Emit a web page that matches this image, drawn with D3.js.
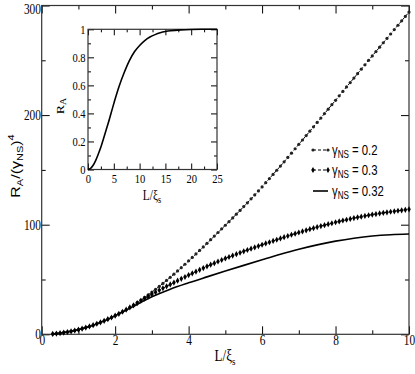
<!DOCTYPE html>
<html>
<head>
<meta charset="utf-8">
<script src="https://cdn.jsdelivr.net/npm/d3@7/dist/d3.min.js"></script>
<style>
  body { margin: 0; background: #fff; }
  svg { display: block; }
  .tick text { font-family: "Liberation Serif", serif; fill: #000; }
</style>
</head>
<body>
<div id="chart"></div>
<script>
// data
const L = [0.3,0.4,0.5,0.6,0.7,0.8,0.9,1.0,1.1,1.2,1.3,1.4,1.5,1.6,1.7,1.8,1.9,2.0,2.1,2.2,2.3,2.4,2.5,
  2.6,2.7,2.8,2.9,3.0,3.1,3.2,3.3,3.4,3.5,3.6,3.7,3.8,3.9,4.0,4.1,4.2,4.3,4.4,4.5,4.6,4.7,4.8,4.9,5.0,
  5.1,5.2,5.3,5.4,5.5,5.6,5.7,5.8,5.9,6.0,6.1,6.2,6.3,6.4,6.5,6.6,6.7,6.8,6.9,7.0,7.1,7.2,7.3,7.4,7.5,
  7.6,7.7,7.8,7.9,8.0,8.1,8.2,8.3,8.4,8.5,8.6,8.7,8.8,8.9,9.0,9.1,9.2,9.3,9.4,9.5,9.6,9.7,9.8,9.9,10.0];

const g02 = [0.38,0.68,1.06,1.53,2.08,2.72,3.44,4.25,5.1,6.1,7.2,8.3,9.6,10.9,12.3,13.8,15.3,17.0,18.7,20.6,22.5,24.5,26.6,
  28.9,31.2,33.6,36.0,38.5,41.1,43.7,46.4,49.2,52.0,54.9,57.8,60.8,63.9,67.0,70.1,73.3,76.5,79.7,83.0,86.3,89.6,92.9,96.2,99.5,
  102.8,106.2,109.6,113.0,116.5,120.0,123.6,127.2,130.8,134.5,138.3,142.1,145.9,149.7,153.5,157.4,161.4,165.3,169.3,173.3,
  177.3,181.3,185.3,189.3,193.3,197.3,201.4,205.4,209.5,213.5,217.6,221.6,225.7,229.7,233.8,237.8,241.9,245.9,250.0,254.0,
  258.0,262.0,266.0,270.0,274.0,278.0,282.0,286.0,290.0,294.0];

const g03 = [0.38,0.68,1.06,1.53,2.08,2.72,3.44,4.25,5.1,6.1,7.2,8.3,9.6,10.9,12.3,13.8,15.3,17.0,18.7,20.6,22.5,24.5,26.4,
  28.5,30.6,32.6,34.6,36.6,38.4,40.2,42.0,43.8,45.5,47.2,48.9,50.6,52.3,54.0,55.6,57.2,58.8,60.4,62.0,63.5,64.9,66.4,67.8,69.2,
  70.5,71.8,73.1,74.4,75.7,76.9,78.1,79.3,80.5,81.7,82.9,84.0,85.2,86.3,87.5,88.6,89.7,90.8,91.8,92.9,
  93.9,94.9,95.9,96.8,97.8,98.7,99.6,100.5,101.3,102.2,103.0,103.8,104.5,105.3,106.0,106.7,107.3,108.0,108.6,109.2,
  109.7,110.3,110.8,111.3,111.8,112.2,112.7,113.1,113.6,114.0];

const L32 = [0.3,0.5,1,1.5,2,2.5,3,3.5,4,4.5,5,5.5,6,6.5,7,7.5,8,8.5,9,9.5,10];
const g032 = [0.38,1.06,4.25,9.5,16.8,25.6,34.2,41.2,47.0,52.4,57.7,62.9,68.0,73.0,77.6,81.6,85.0,87.7,89.7,90.9,91.5];

const Lin = [0,0.5,1,1.5,2,2.5,3,3.5,4,5,6,7,8,9,10,11,12,13,14,15,16,18,20,22,25];
const RA = [0,0.008,0.03,0.065,0.11,0.16,0.22,0.28,0.34,0.47,0.59,0.69,0.775,0.84,0.885,0.92,0.945,0.962,0.975,0.984,0.99,0.996,0.999,1.0,1.0];

const xTicks = [0,2,4,6,8,10];
const xMinor = [1,3,5,7,9];
const yTicks = [0,100,200,300];
const yMinor = [50,150,250];
const inXTicks = [0,5,10,15,20,25];
const inXMinor = [2.5,7.5,12.5,17.5,22.5];
const inYTicks = [0,0.2,0.4,0.6,0.8,1];
const inYMinor = [0.1,0.3,0.5,0.7,0.9];

const legendLabels = ["0.2", "0.3", "0.32"];

const width = 415, height = 374;
const svg = d3.select("#chart").append("svg")
  .attr("width", width).attr("height", height);

const SX = 0.81; // the figure's text is horizontally condensed

// main plot
const x = d3.scaleLinear().domain([0, 10]).range([41.7, 409]);
const y = d3.scaleLinear().domain([0, 300]).range([334.3, 5.5]);

function squeezeText(sel) {
  sel.selectAll(".tick text").attr("transform", "scale(" + SX + ",1)");
}

const gx = svg.append("g").attr("transform", "translate(0," + y(0) + ")")
  .call(d3.axisBottom(x).tickValues(xTicks).tickSize(-8).tickPadding(1).tickFormat(d3.format("d")));
gx.selectAll(".tick text").attr("font-size", 14).attr("dy", "0.72em");
squeezeText(gx);
svg.append("g").attr("transform", "translate(0," + y(0) + ")")
  .call(d3.axisBottom(x).tickValues(xMinor).tickSize(-4).tickFormat(""));
svg.append("g").attr("transform", "translate(0," + y(300) + ")")
  .call(d3.axisTop(x).tickValues(xTicks).tickSize(-8).tickFormat(""));
svg.append("g").attr("transform", "translate(0," + y(300) + ")")
  .call(d3.axisTop(x).tickValues(xMinor).tickSize(-4).tickFormat(""));

const gy = svg.append("g").attr("transform", "translate(" + x(0) + ",0)")
  .call(d3.axisLeft(y).tickValues(yTicks).tickSize(-8).tickPadding(1));
gy.selectAll(".tick text").attr("font-size", 14)
  .attr("dy", d => d === 300 ? "0.55em" : "0.32em");
squeezeText(gy);
svg.append("g").attr("transform", "translate(" + x(0) + ",0)")
  .call(d3.axisLeft(y).tickValues(yMinor).tickSize(-4).tickFormat(""));
svg.append("g").attr("transform", "translate(" + x(10) + ",0)")
  .call(d3.axisRight(y).tickValues(yTicks).tickSize(-8).tickFormat(""));
svg.append("g").attr("transform", "translate(" + x(10) + ",0)")
  .call(d3.axisRight(y).tickValues(yMinor).tickSize(-4).tickFormat(""));

svg.selectAll(".domain").remove();
svg.selectAll(".tick line").attr("stroke", "#000");

svg.append("rect")
  .attr("x", x(0)).attr("y", y(300))
  .attr("width", x(10) - x(0)).attr("height", y(0) - y(300))
  .attr("fill", "none").attr("stroke", "#333").attr("stroke-width", 1.2);

// series
const line = d3.line().x(d => x(d[0])).y(d => y(d[1]));
const s02 = L.map((l, i) => [l, g02[i]]);
const s03 = L.map((l, i) => [l, g03[i]]);
const s032 = L32.map((l, i) => [l, g032[i]]);

svg.append("path").datum(s02).attr("d", line)
  .attr("fill", "none").attr("stroke", "#000").attr("stroke-width", 1).attr("stroke-dasharray", "3,2");
svg.append("path").datum(s03).attr("d", line)
  .attr("fill", "none").attr("stroke", "#000").attr("stroke-width", 1).attr("stroke-dasharray", "3,2");
svg.append("path").datum(s032).attr("d", line.curve(d3.curveCatmullRom))
  .attr("fill", "none").attr("stroke", "#000").attr("stroke-width", 1.6);
line.curve(d3.curveLinear);

svg.append("g").selectAll("circle").data(s02).enter().append("circle")
  .attr("cx", d => x(d[0])).attr("cy", d => y(d[1])).attr("r", 1.6).attr("fill", "#222");
const diamond = d3.symbol().type(d3.symbolDiamond).size(11);
svg.append("g").selectAll("path").data(s03).enter().append("path")
  .attr("d", diamond)
  .attr("transform", d => "translate(" + x(d[0]) + "," + y(d[1]) + ")")
  .attr("fill", "#000");

// legend
const legY = [150, 170, 191];
const leg = svg.append("g");
legendLabels.forEach(function (lab, i) {
  const ly = legY[i];
  if (i < 2) {
    leg.append("line").attr("x1", 313).attr("x2", 328).attr("y1", ly).attr("y2", ly)
      .attr("stroke", "#000").attr("stroke-width", 1).attr("stroke-dasharray", "3,2");
    [313, 328].forEach(function (mx) {
      if (i === 0) {
        leg.append("circle").attr("cx", mx).attr("cy", ly).attr("r", 1.6).attr("fill", "#222");
      } else {
        leg.append("path").attr("d", diamond).attr("transform", "translate(" + mx + "," + ly + ")").attr("fill", "#000");
      }
    });
  } else {
    leg.append("line").attr("x1", 313).attr("x2", 328).attr("y1", ly).attr("y2", ly)
      .attr("stroke", "#000").attr("stroke-width", 1.6);
  }
  const t = leg.append("text")
    .attr("transform", "translate(332," + (ly + 5) + ") scale(" + SX + ",1)")
    .attr("font-family", "Liberation Sans, Arial, sans-serif").attr("font-size", 14);
  t.append("tspan").text("γ");
  t.append("tspan").attr("font-size", 10).attr("dy", 3).text("NS");
  t.append("tspan").attr("dy", -3).text(" = " + lab);
});

// axis labels
const xl = svg.append("text")
  .attr("transform", "translate(225,361) scale(" + SX + ",1)")
  .attr("text-anchor", "middle")
  .attr("font-family", "Liberation Serif, serif").attr("font-size", 16);
xl.append("tspan").text("L/ξ");
xl.append("tspan").attr("font-size", 11).attr("dy", 4).text("s");

const yl = svg.append("text")
  .attr("transform", "translate(20,166) rotate(-90) scale(1," + SX + ")")
  .attr("text-anchor", "middle")
  .attr("font-family", "Liberation Sans, Arial, sans-serif").attr("font-size", 16);
yl.append("tspan").text("R");
yl.append("tspan").attr("font-size", 11).attr("dy", 4).text("A");
yl.append("tspan").attr("dy", -4).text("/(γ");
yl.append("tspan").attr("font-size", 11).attr("dy", 4).text("NS");
yl.append("tspan").attr("dy", -4).text(")");
yl.append("tspan").attr("font-size", 11).attr("dy", -7).text("4");

// inset
const xi = d3.scaleLinear().domain([0, 25]).range([88, 217]);
const yi = d3.scaleLinear().domain([0, 1]).range([169.5, 29.3]);
const inset = svg.append("g");

const gxi = inset.append("g").attr("transform", "translate(0," + yi(0) + ")")
  .call(d3.axisBottom(xi).tickValues(inXTicks).tickSize(-6).tickPadding(4));
gxi.selectAll(".tick text").attr("font-size", 13);
squeezeText(gxi);
inset.append("g").attr("transform", "translate(0," + yi(0) + ")")
  .call(d3.axisBottom(xi).tickValues(inXMinor).tickSize(-3).tickFormat(""));
inset.append("g").attr("transform", "translate(0," + yi(1) + ")")
  .call(d3.axisTop(xi).tickValues(inXTicks).tickSize(-6).tickFormat(""));
inset.append("g").attr("transform", "translate(0," + yi(1) + ")")
  .call(d3.axisTop(xi).tickValues(inXMinor).tickSize(-3).tickFormat(""));

const gyi = inset.append("g").attr("transform", "translate(" + xi(0) + ",0)")
  .call(d3.axisLeft(yi).tickValues(inYTicks).tickSize(-6).tickPadding(3).tickFormat(d => d === 0 || d === 1 ? d3.format("d")(d) : d3.format(".1f")(d)));
gyi.selectAll(".tick text").attr("font-size", 13);
squeezeText(gyi);
inset.append("g").attr("transform", "translate(" + xi(0) + ",0)")
  .call(d3.axisLeft(yi).tickValues(inYMinor).tickSize(-3).tickFormat(""));
inset.append("g").attr("transform", "translate(" + xi(25) + ",0)")
  .call(d3.axisRight(yi).tickValues(inYTicks).tickSize(-6).tickFormat(""));
inset.append("g").attr("transform", "translate(" + xi(25) + ",0)")
  .call(d3.axisRight(yi).tickValues(inYMinor).tickSize(-3).tickFormat(""));

inset.selectAll(".domain").remove();
inset.selectAll(".tick line").attr("stroke", "#000");
inset.append("rect")
  .attr("x", xi(0)).attr("y", yi(1))
  .attr("width", xi(25) - xi(0)).attr("height", yi(0) - yi(1))
  .attr("fill", "none").attr("stroke", "#333").attr("stroke-width", 1.2);

const sIn = Lin.map((l, i) => [l, RA[i]]);
inset.append("path").datum(sIn)
  .attr("d", d3.line().x(d => xi(d[0])).y(d => yi(d[1])).curve(d3.curveCatmullRom))
  .attr("fill", "none").attr("stroke", "#000").attr("stroke-width", 1.6);

const ixl = inset.append("text")
  .attr("transform", "translate(152,200) scale(" + SX + ",1)")
  .attr("text-anchor", "middle")
  .attr("font-family", "Liberation Serif, serif").attr("font-size", 14);
ixl.append("tspan").text("L/ξ");
ixl.append("tspan").attr("font-size", 10).attr("dy", 3).text("s");

const iyl = inset.append("text")
  .attr("transform", "translate(64,106) rotate(-90) scale(1," + SX + ")")
  .attr("text-anchor", "middle")
  .attr("font-family", "Liberation Serif, serif").attr("font-size", 14);
iyl.append("tspan").text("R");
iyl.append("tspan").attr("font-size", 10).attr("dy", 3).text("A");
</script>
</body>
</html>
